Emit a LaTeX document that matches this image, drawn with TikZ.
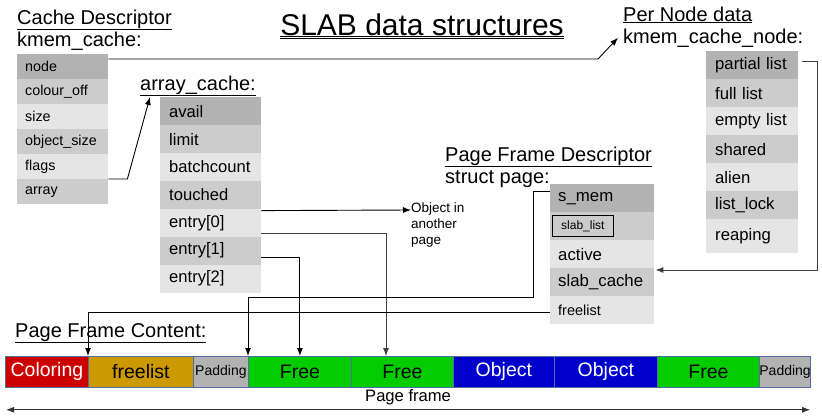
\documentclass[tikz,border=0pt]{standalone}
\usepackage{fontspec}
\setmainfont{Liberation Sans}
\usetikzlibrary{arrows.meta}
\colorlet{dk}{black!30}
\colorlet{md}{black!20}
\colorlet{lt}{black!10}
\definecolor{segline}{RGB}{80,110,160}
\definecolor{segred}{RGB}{204,0,0}
\definecolor{seggold}{RGB}{204,153,0}
\definecolor{seggray}{RGB}{178,178,178}
\definecolor{seggreen}{RGB}{0,204,0}
\definecolor{segblue}{RGB}{0,0,204}
\newcommand{\fsz}[1]{\fontsize{#1}{#1}\selectfont}

\begin{document}
\begin{tikzpicture}[x=1pt,y=-1pt,
  cell/.style={anchor=north west,inner ysep=0pt,align=left},
  hd/.style={anchor=base west,inner sep=0pt,font=\fsz{20}},
  seg/.style={draw=segline,line width=0.8pt,anchor=north west,inner sep=0pt,minimum height=31pt},
  wire/.style={line width=0.9pt},
  tip/.style={-{Latex[length=8pt,width=6pt]}}]
  \useasboundingbox (0,0) rectangle (822,418);
  % headings
  \node[anchor=base,inner sep=0pt,font=\fsz{30}] (title) at (422,35) {\underline{\underline{SLAB data structures}}};
  \node[hd] (hkc1) at (17,24) {\underline{Cache Descriptor}};
  \node[hd] (hkc2) at (17,46) {kmem\_cache:};
  \node[hd] (hac) at (140,90) {\underline{array\_cache:}};
  \node[hd] (hpd1) at (445,161) {\underline{Page Frame Descriptor}};
  \node[hd] (hpd2) at (445,183) {struct page:};
  \node[hd] (hpn1) at (623,21) {\underline{Per Node data}};
  \node[hd] (hpn2) at (623,43) {kmem\_cache\_node:};
  \node[hd] (hpf) at (15,337) {\underline{Page Frame Content:}};
  % kmem_cache
  \foreach \t/\c [count=\i] in {node/dk,colour\_off/md,size/lt,object\_size/md,flags/lt,array/md}
    \node[cell,fill=\c,inner xsep=8pt,text width=75pt,minimum height=25pt,font=\fsz{14.3}] (kc\i) at (17,{29+25*\i}) {\t};
  % array_cache
  \foreach \t/\c [count=\i] in {avail/dk,limit/md,batchcount/lt,touched/md,entry[0]/lt,entry[1]/md,entry[2]/lt}
    \node[cell,fill=\c,inner xsep=9pt,text width=83pt,minimum height=27.9pt,font=\fsz{16.6}] (ac\i) at (160,{69.1+27.9*\i}) {\t};
  % struct page
  \foreach \t/\c [count=\i] in {s\_mem/dk,{}/md,active/lt,slab\_cache/md}
    \node[cell,fill=\c,inner xsep=8pt,text width=88pt,minimum height=28pt,font=\fsz{16.8}] (pd\i) at (550,{156+28*\i}) {\t};
  \node[cell,fill=lt,inner xsep=8pt,text width=88pt,minimum height=28pt,font=\fsz{14.5}] (pd5) at (550,296) {freelist};
  \node[draw,line width=0.8pt,anchor=west,inner sep=0pt,minimum width=61pt,minimum height=21pt,font=\fsz{12}] (sl) at ([xshift=2pt]pd2.west) {slab\_list};
  % kmem_cache_node
  \foreach \t/\c [count=\i] in {partial list/dk,full list/md,empty list/lt,shared/md,alien/lt,list\_lock/md}
    \node[cell,fill=\c,inner xsep=9pt,text width=74pt,minimum height=28pt,font=\fsz{16.7}] (pn\i) at (706,{23+28*\i}) {\t};
  \node[cell,fill=lt,inner xsep=9pt,text width=74pt,minimum height=34pt,font=\fsz{16.7}] (pn7) at (706,219) {reaping};
  % page frame
  \foreach \x/\w/\t/\c/\tc/\f [count=\i] in {5/83/Coloring/segred/white/19.5,88/105/freelist/seggold/black/19.5,
      193/55/Padding/seggray/black/14,248/103/Free/seggreen/black/19.5,351/102/Free/seggreen/black/19.5,
      453/101/Object/segblue/white/19.5,554/103/Object/segblue/white/19.5,657/102/Free/seggreen/black/19.5,
      759/51/Padding/seggray/black/14}
    \node[seg,fill=\c,text=\tc,minimum width=\w,font=\fsz{\f}] (pf\i) at (\x,356) {\t};
  \node[anchor=north west,inner sep=0pt,align=left,font=\fsz{13.5}] (obj) at (411,203) {Object in\\[2.5pt]another\\[2.5pt]page};
  \coordinate (objtip) at ([yshift=-7pt]obj.north west);
  \coordinate (actip) at (150,97);
  % connectors
  \draw[wire,tip] ([yshift=-5pt]kc1.north east) -- (598,59) -- ([xshift=-5pt]hpn2.west);
  \draw[wire,tip] (kc6.north east) -- ++(19,0) -- (actip);
  \draw[wire,tip] ([yshift=-2pt]ac5.north east) -- (objtip);
  \draw[wire,tip,black!75] ([yshift=3pt]ac5.south east) -| ([xshift=35pt]pf5.north west);
  \draw[wire,tip] ([yshift=-7pt]ac6.east) -| (pf4.north);
  \draw[wire,tip] ([yshift=7pt]pd1.west) -- ++(-17,0) -- ++(0,106) -| (pf4.north west);
  \draw[wire,tip] ([yshift=-2pt]pd5.west) -| (pf2.north west);
  \draw[wire,tip,black!75] ([xshift=4pt,yshift=4pt]pn1.east) -- ++(15,0) |- ([xshift=1pt,yshift=-2pt]pd4.north east);
  \draw[wire,black!80,{Latex[length=8pt,width=6pt]}-{Latex[length=8pt,width=6pt]}] ([xshift=1pt,yshift=-22pt]pf1.south west) -- ([xshift=-1pt,yshift=-22pt]pf9.south east)
    node[midway,above=1pt,font=\fsz{16.6},text=black] (pflbl) {Page frame};
\end{tikzpicture}
\end{document}
